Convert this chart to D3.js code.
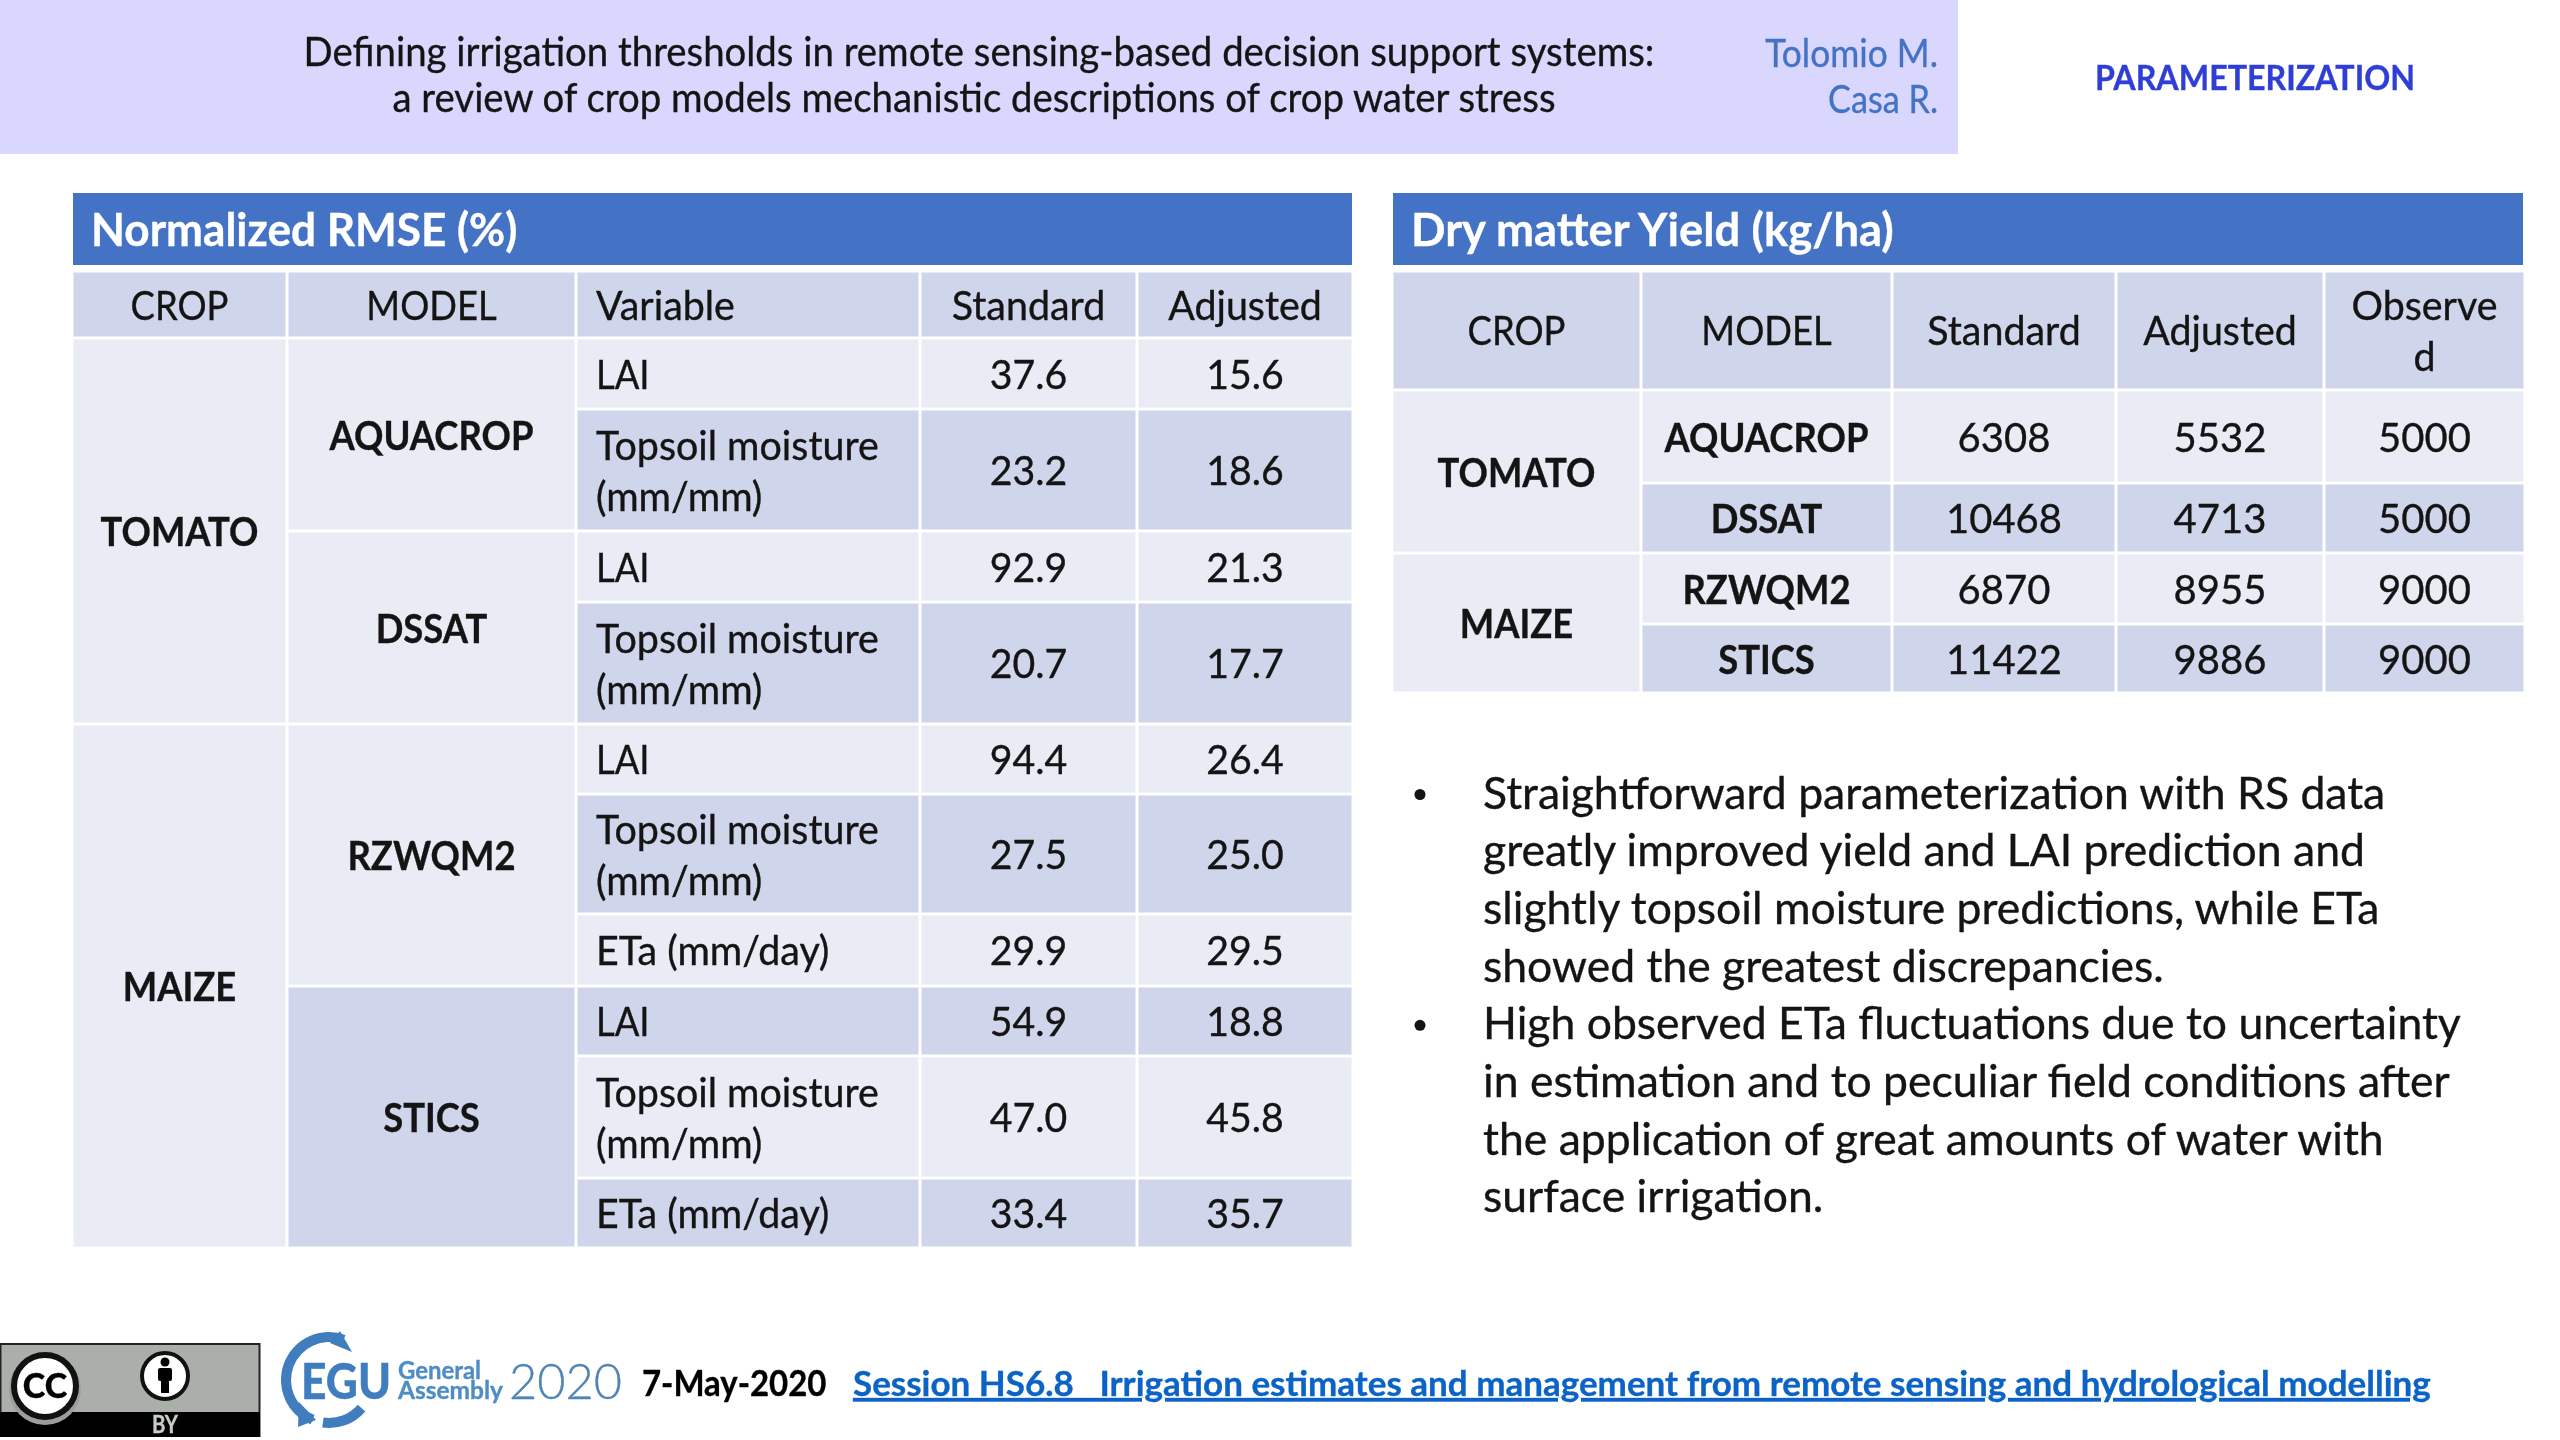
<!DOCTYPE html>
<html>
<head>
<meta charset="utf-8">
<script src="https://cdn.jsdelivr.net/npm/d3@7"></script>
<style>
html, body { margin: 0; padding: 0; background: #fff; }
svg { display: block; filter: blur(0.7px); }
text { font-family: Lato, "Open Sans", sans-serif; }
</style>
</head>
<body>
<svg id="slide" width="2560" height="1440"></svg>
<script>
// slide text
var titleLines = ["Defining irrigation thresholds in remote sensing-based decision support systems:",
                  "a review of crop models mechanistic descriptions of crop water stress"];
var authors = ["Tolomio M.", "Casa R."];
var sectionName = "PARAMETERIZATION";

// left table
var rmseTitle = "Normalized RMSE (%)";
var rmseHead = ["CROP", "MODEL", "Variable", "Standard", "Adjusted"];
var rmseCrops = ["TOMATO", "MAIZE"];
var rmseCropSpans = [4, 6];
var rmseModels = ["AQUACROP", "DSSAT", "RZWQM2", "STICS"];
var rmseModelSpans = [2, 2, 3, 3];
var rmseVariables = ["LAI", "Topsoil moisture|(mm/mm)", "LAI", "Topsoil moisture|(mm/mm)", "LAI",
                     "Topsoil moisture|(mm/mm)", "ETa (mm/day)", "LAI", "Topsoil moisture|(mm/mm)", "ETa (mm/day)"];
var rmseStandard = ["37.6", "23.2", "92.9", "20.7", "94.4", "27.5", "29.9", "54.9", "47.0", "33.4"];
var rmseAdjusted = ["15.6", "18.6", "21.3", "17.7", "26.4", "25.0", "29.5", "18.8", "45.8", "35.7"];

// right table
var yieldTitle = "Dry matter Yield (kg/ha)";
var yieldHead = ["CROP", "MODEL", "Standard", "Adjusted", "Observe|d"];
var yieldCrops = ["TOMATO", "MAIZE"];
var yieldCropSpans = [2, 2];
var yieldModels = ["AQUACROP", "DSSAT", "RZWQM2", "STICS"];
var yieldStandard = ["6308", "10468", "6870", "11422"];
var yieldAdjusted = ["5532", "4713", "8955", "9886"];
var yieldObserved = ["5000", "5000", "9000", "9000"];

var bullets = [
  ["Straightforward parameterization with RS data", "greatly improved yield and LAI prediction and",
   "slightly topsoil moisture predictions, while ETa", "showed the greatest discrepancies."],
  ["High observed ETa fluctuations due to uncertainty", "in estimation and to peculiar field conditions after",
   "the application of great amounts of water with", "surface irrigation."]
];

var footDate = "7-May-2020";
var footSession = "Session HS6.8\u00a0\u00a0\u00a0Irrigation estimates and management from remote sensing and hydrological modelling";

// layout
var rmseColEdges = [72, 287, 576, 920, 1137, 1353];
var rmseRowEdges = [338, 409, 531, 602, 724, 794, 914, 986, 1056, 1178, 1248];
var yieldColEdges = [1392, 1641, 1892, 2116, 2324, 2525];
var yieldRowEdges = [390, 483, 553, 624, 693];

var DARK = "#cfd5ea", LIGHT = "#e9ebf5", BLUE = "#4472c4", INK = "#141414";
var SIZE = 40, DROP = 15;

var svg = d3.select("#slide");

// Lato runs a little off the slide's font: caps come out wide, so they get squeezed
function put(g, str, x, y, o) {
    o = o || {};
    var t = g.append("text")
        .attr("x", x).attr("y", y)
        .attr("text-anchor", o.anchor || "middle")
        .attr("font-size", o.size || SIZE)
        .attr("font-weight", o.weight || 400)
        .attr("fill", o.fill || INK)
        .attr("stroke", o.fill || INK)
        .attr("stroke-width", 0.35)
        .text(str);
    var natural = t.node().getComputedTextLength();
    var squeeze = o.squeeze || (str === str.toUpperCase() ? 0.91 : 0.985);
    t.attr("textLength", o.width || natural * squeeze)
     .attr("lengthAdjust", "spacingAndGlyphs");
    return t;
}

function cell(g, x0, x1, y0, y1, fill) {
    g.append("rect")
        .attr("x", x0 + 1.5).attr("y", y0 + 1.5)
        .attr("width", x1 - x0 - 3).attr("height", y1 - y0 - 3)
        .attr("fill", fill);
}

// text centred on cy, "|" breaks the line
function multi(g, str, x, cy, o) {
    var lines = str.split("|"), lh = 51;
    lines.forEach(function(l, i) {
        put(g, l, x, cy + DROP + (i - (lines.length - 1) / 2) * lh, o);
    });
}

function spanRanges(spans) {
    var at = 0;
    return spans.map(function(s) { var r = [at, at + s]; at += s; return r; });
}

// top band
svg.append("rect").attr("width", 1958).attr("height", 154).attr("fill", "#d9d7fe");
titleLines.forEach(function(l, i) {
    put(svg, l, 979 - i * 5, 66 + i * 46, { size: 40.5, squeeze: 0.947 });
});
authors.forEach(function(l, i) {
    put(svg, l, 1938, 67 + i * 46, { anchor: "end", size: 38, fill: "#4472c4", squeeze: 0.93 - i * 0.03 });
});
put(svg, sectionName, 2255, 90, { size: 35, weight: 700, fill: "#2f3fd6", squeeze: 0.92 });

// left table
var rmse = svg.append("g");
var rmseX = d3.scaleLinear().domain(d3.range(rmseColEdges.length)).range(rmseColEdges);
var rmseY = d3.scaleLinear().domain(d3.range(rmseRowEdges.length)).range(rmseRowEdges);

rmse.append("rect").attr("x", 73).attr("y", 193).attr("width", 1279).attr("height", 72).attr("fill", BLUE);
put(rmse, rmseTitle, 91, 246, { anchor: "start", size: 45, weight: 700, fill: "#fff", squeeze: 0.98 });

rmseHead.forEach(function(h, c) {
    cell(rmse, rmseX(c), rmseX(c + 1), 271, 338, DARK);
    if (c == 2) put(rmse, h, rmseX(c) + 20, 320, { anchor: "start" });
    else put(rmse, h, (rmseX(c) + rmseX(c + 1)) / 2, 320);
});

spanRanges(rmseCropSpans).forEach(function(r, i) {
    cell(rmse, rmseX(0), rmseX(1), rmseY(r[0]), rmseY(r[1]), LIGHT);
    put(rmse, rmseCrops[i], (rmseX(0) + rmseX(1)) / 2, (rmseY(r[0]) + rmseY(r[1])) / 2 + DROP, { weight: 700 });
});
spanRanges(rmseModelSpans).forEach(function(r, i) {
    cell(rmse, rmseX(1), rmseX(2), rmseY(r[0]), rmseY(r[1]), i == 3 ? DARK : LIGHT);
    put(rmse, rmseModels[i], (rmseX(1) + rmseX(2)) / 2, (rmseY(r[0]) + rmseY(r[1])) / 2 + DROP, { weight: 700 });
});
rmseVariables.forEach(function(v, i) {
    var y0 = rmseY(i), y1 = rmseY(i + 1), cy = (y0 + y1) / 2, fill = i % 2 ? DARK : LIGHT;
    cell(rmse, rmseX(2), rmseX(3), y0, y1, fill);
    cell(rmse, rmseX(3), rmseX(4), y0, y1, fill);
    cell(rmse, rmseX(4), rmseX(5), y0, y1, fill);
    multi(rmse, v, rmseX(2) + 20, cy, { anchor: "start" });
    put(rmse, rmseStandard[i], (rmseX(3) + rmseX(4)) / 2, cy + DROP, { squeeze: 0.98 });
    put(rmse, rmseAdjusted[i], (rmseX(4) + rmseX(5)) / 2, cy + DROP, { squeeze: 0.98 });
});

// right table
var yld = svg.append("g");
var yieldX = d3.scaleLinear().domain(d3.range(yieldColEdges.length)).range(yieldColEdges);
var yieldY = d3.scaleLinear().domain(d3.range(yieldRowEdges.length)).range(yieldRowEdges);

yld.append("rect").attr("x", 1393).attr("y", 193).attr("width", 1130).attr("height", 72).attr("fill", BLUE);
put(yld, yieldTitle, 1411, 246, { anchor: "start", size: 45, weight: 700, fill: "#fff", squeeze: 1.01 });

yieldHead.forEach(function(h, c) {
    cell(yld, yieldX(c), yieldX(c + 1), 271, 390, DARK);
    multi(yld, h, (yieldX(c) + yieldX(c + 1)) / 2, 330);
});
spanRanges(yieldCropSpans).forEach(function(r, i) {
    cell(yld, yieldX(0), yieldX(1), yieldY(r[0]), yieldY(r[1]), LIGHT);
    put(yld, yieldCrops[i], (yieldX(0) + yieldX(1)) / 2, (yieldY(r[0]) + yieldY(r[1])) / 2 + DROP, { weight: 700 });
});
yieldModels.forEach(function(m, i) {
    var y0 = yieldY(i), y1 = yieldY(i + 1), cy = (y0 + y1) / 2, fill = i % 2 ? DARK : LIGHT;
    d3.range(1, 5).forEach(function(c) { cell(yld, yieldX(c), yieldX(c + 1), y0, y1, fill); });
    put(yld, m, (yieldX(1) + yieldX(2)) / 2, cy + DROP, { weight: 700 });
    put(yld, yieldStandard[i], (yieldX(2) + yieldX(3)) / 2, cy + DROP, { squeeze: 1 });
    put(yld, yieldAdjusted[i], (yieldX(3) + yieldX(4)) / 2, cy + DROP, { squeeze: 1 });
    put(yld, yieldObserved[i], (yieldX(4) + yieldX(5)) / 2, cy + DROP, { squeeze: 1 });
});

// bullet text
var lineNo = 0;
bullets.forEach(function(par) {
    par.forEach(function(l, i) {
        var y = 808.5 + lineNo * 57.7;
        if (i == 0) svg.append("circle").attr("cx", 1420).attr("cy", y - 14).attr("r", 5.5).attr("fill", INK);
        put(svg, l, 1483, y, { anchor: "start", size: 44.5, squeeze: 1 });
        lineNo++;
    });
});

// cc badge
var cc = svg.append("g");
cc.append("rect").attr("x", 0.5).attr("y", 1344).attr("width", 259).attr("height", 92)
    .attr("fill", "#aab0a9").attr("stroke", "#222").attr("stroke-width", 2);
cc.append("rect").attr("x", 0).attr("y", 1412).attr("width", 260).attr("height", 25).attr("fill", "#000");
cc.append("circle").attr("cx", 45).attr("cy", 1389).attr("r", 36).attr("fill", "#9a9f99");
cc.append("circle").attr("cx", 45).attr("cy", 1386).attr("r", 31).attr("fill", "#fff").attr("stroke", "#111").attr("stroke-width", 6);
put(cc, "CC", 45, 1398, { size: 34, weight: 900, fill: "#000", squeeze: 1 });
cc.append("circle").attr("cx", 165).attr("cy", 1376).attr("r", 23).attr("fill", "#fff").attr("stroke", "#111").attr("stroke-width", 4);
cc.append("circle").attr("cx", 165).attr("cy", 1362).attr("r", 4.5).attr("fill", "#000");
cc.append("rect").attr("x", 158).attr("y", 1368).attr("width", 14).attr("height", 13).attr("rx", 2).attr("fill", "#000");
cc.append("rect").attr("x", 161).attr("y", 1379).attr("width", 8).attr("height", 14).attr("fill", "#000");
put(cc, "BY", 165, 1433, { size: 24, weight: 700, fill: "#c8ccc8", squeeze: 0.85 });

// egu logo
var logo = svg.append("g");
var EGU_BLUE = "#3f7dbf";
var ring = d3.arc().innerRadius(38).outerRadius(48);
logo.append("path").attr("transform", "translate(329,1380)")
    .attr("fill", EGU_BLUE)
    .attr("d", ring({ startAngle: -2.75, endAngle: 0.35 }));
logo.append("path").attr("transform", "translate(329,1380)")
    .attr("fill", EGU_BLUE)
    .attr("d", ring({ startAngle: -4.0, endAngle: -3.0 }));
// arrow tips on the ring
logo.append("path").attr("fill", EGU_BLUE).attr("d", "M330,1343L340,1331L352,1352Z");
logo.append("path").attr("fill", EGU_BLUE).attr("d", "M299,1402L298,1427L316,1420Z");
put(logo, "EGU", 301, 1399, { anchor: "start", size: 50, weight: 900, fill: EGU_BLUE, width: 90 });
put(logo, "General", 398, 1379, { anchor: "start", size: 24, weight: 700, fill: "#4f8cc4", width: 83 });
put(logo, "Assembly", 398, 1399, { anchor: "start", size: 24, weight: 700, fill: "#4f8cc4", width: 105 });
put(logo, "2020", 509, 1399, { anchor: "start", size: 50, weight: 300, fill: "#4f85b5", width: 113 });

// footer line
put(svg, footDate, 642, 1396, { anchor: "start", size: 36, weight: 700, fill: "#000", squeeze: 0.915 });
put(svg, footSession, 853, 1396, { anchor: "start", size: 35, weight: 700, fill: "#0b63c5", squeeze: 1 })
    .attr("text-decoration", "underline");
</script>
</body>
</html>
